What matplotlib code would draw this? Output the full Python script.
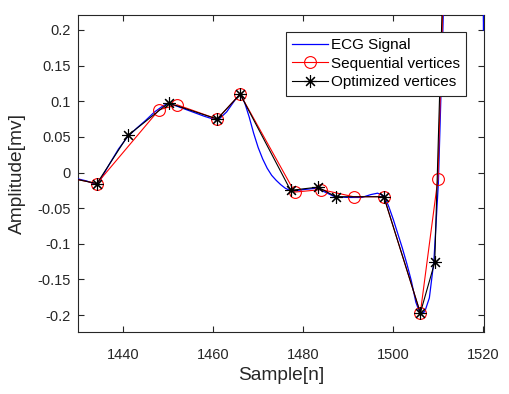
import numpy as np
import matplotlib.pyplot as plt

plt.rcParams['font.family'] = ['Liberation Sans', 'DejaVu Sans']

# ECG signal (samples)
ecg_n = [1430, 1432, 1434, 1435, 1437, 1439, 1441, 1443, 1445, 1447, 1449, 1450,
         1452, 1455, 1458, 1461, 1463, 1465, 1466, 1467, 1468, 1469, 1470, 1471,
         1472, 1473, 1474, 1475, 1476, 1477, 1478, 1480, 1483, 1485, 1487, 1490,
         1493, 1495, 1496.5, 1498, 1499, 1500, 1501, 1502, 1503, 1504, 1505, 1506,
         1507, 1508, 1509, 1510, 1511, 1512, 1513, 1516, 1519.8, 1520]
ecg_v = [-0.009, -0.012, -0.017, -0.010, 0.012, 0.033, 0.050, 0.062, 0.073, 0.085, 0.094, 0.097,
         0.093, 0.086, 0.079, 0.073, 0.085, 0.103, 0.110, 0.098, 0.078, 0.055, 0.035, 0.019,
         0.006, -0.004, -0.011, -0.017, -0.022, -0.025, -0.026, -0.024, -0.022, -0.028, -0.034, -0.035,
         -0.035, -0.031, -0.029, -0.033, -0.048, -0.066, -0.086, -0.106, -0.128, -0.152, -0.182, -0.199,
         -0.195, -0.176, -0.125, -0.015, 0.200, 0.450, 0.700, 0.900, 1.500, 0.200]

# sequential vertices
seq_n = [1430, 1434.2, 1448.0, 1452.0, 1460.9, 1466.0, 1478.1, 1484.0, 1491.2, 1497.9, 1506.0, 1509.9, 1513]
seq_v = [-0.010, -0.0155, 0.088, 0.095, 0.075, 0.110, -0.0275, -0.024, -0.034, -0.034, -0.197, -0.009, 0.68]

# optimized vertices
opt_n = [1430, 1434.2, 1441.1, 1450.1, 1460.9, 1466.0, 1477.2, 1483.3, 1487.2, 1497.9, 1506.0, 1509.2, 1513]
opt_v = [-0.010, -0.0155, 0.052, 0.0975, 0.075, 0.110, -0.025, -0.0205, -0.034, -0.034, -0.197, -0.126, 0.70]

fig = plt.figure(figsize=(5.09, 3.94), dpi=100)
ax = fig.add_axes([0.1532, 0.1581, 0.7983, 0.8038])

ax.plot(ecg_n, ecg_v, color='#0000ff', lw=0.9, label='ECG Signal', zorder=2.6)
ax.plot(seq_n, seq_v, color='#ff0000', lw=0.8, marker='o', ms=8.5,
        mfc='none', mec='#ff0000', mew=0.8, markevery=list(range(1, 12)),
        label='Sequential vertices', zorder=2.7)
ax.plot(opt_n, opt_v, color='black', lw=0.8, marker=(8, 2, 0), ms=9,
        mew=0.8, markevery=list(range(1, 12)), label='Optimized vertices',
        zorder=2.8)

ax.set_xlim(1430, 1520.2)
ax.set_ylim(-0.2234, 0.221)
ax.set_xticks([1440, 1460, 1480, 1500, 1520])
ax.set_yticks([-0.2, -0.15, -0.1, -0.05, 0, 0.05, 0.1, 0.15, 0.2])
ax.set_yticklabels(['-0.2', '-0.15', '-0.1', '-0.05', '0', '0.05', '0.1', '0.15', '0.2'])

grey = '#262626'
for s in ax.spines.values():
    s.set_color(grey)
    s.set_linewidth(0.8)
ax.tick_params(direction='in', top=True, right=True, length=4, width=0.8,
               colors=grey, labelsize=10.5, labelcolor=grey, pad=5)
ax.tick_params(axis='x', pad=12)

ax.set_xlabel('Sample[n]', fontsize=13.8, color=grey)
ax.set_ylabel('Amplitude[mv]', fontsize=13.8, color=grey)
ax.xaxis.set_label_coords(0.5, -0.11)
ax.yaxis.set_label_coords(-0.128, 0.5)

leg = ax.legend(loc='upper right', bbox_to_anchor=(0.956, 0.946), fontsize=11,
                fancybox=False, framealpha=1, edgecolor=grey, handlelength=2.3,
                borderpad=0.4, labelspacing=0.3, handletextpad=0.25,
                borderaxespad=0)
leg.get_frame().set_linewidth(0.8)
leg.set_zorder(5)

plt.savefig('out.png', dpi=100)
